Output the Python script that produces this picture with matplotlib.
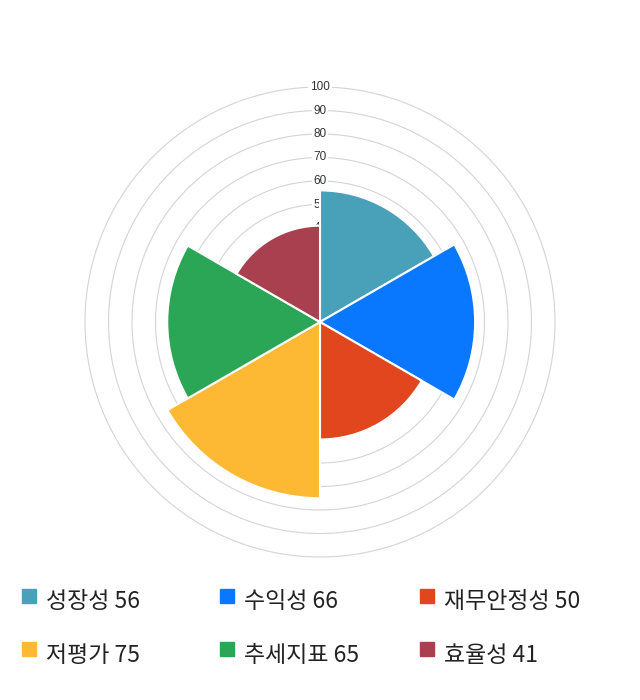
import numpy as np
import matplotlib.pyplot as plt
from matplotlib.patches import Rectangle

plt.rcParams['font.family'] = ['Noto Sans CJK KR', 'DejaVu Sans']

# data
categories = ['성장성', '수익성', '재무안정성', '저평가', '추세지표', '효율성']
values = [56, 66, 50, 75, 65, 41]
colors = ['#48A0B9', '#0A77FF', '#E2461F', '#FDB934', '#2BA556', '#A8404F']
ticks = [10, 20, 30, 40, 50, 60, 70, 80, 90, 100]

fig = plt.figure(figsize=(6.4, 7), dpi=100)
ax = fig.add_axes([85 / 640, 143 / 700, 470 / 640, 470 / 700], projection='polar')
ax.set_theta_zero_location('N')
ax.set_theta_direction(-1)
ax.set_ylim(0, 100)

n = len(values)
width = 2 * np.pi / n
theta = np.arange(n) * width
ax.bar(theta, values, width=width, align='edge', color=colors,
       edgecolor='white', linewidth=1.5, zorder=3)

# grid circles
circ = np.linspace(0, 2 * np.pi, 400)
for t in ticks:
    ax.plot(circ, np.full_like(circ, t), color='#d4d4d4', lw=0.8, zorder=1,
            clip_on=False)
    ax.text(0, t, str(t), ha='center', va='center', fontsize=8.5,
            family='Liberation Sans', color='#333333', zorder=2,
            bbox=dict(boxstyle='square,pad=0.15', fc='white', ec='none'))

ax.grid(False)
ax.set_xticks([])
ax.set_yticks([])
ax.spines['polar'].set_visible(False)

# legend
col_x = [22, 220, 420]
row_y = [596, 649]
for i, (cat, val, c) in enumerate(zip(categories, values, colors)):
    x = col_x[i % 3]
    y = row_y[i // 3]
    fig.add_artist(Rectangle((x / 640, 1 - (y + 7) / 700), 14 / 640, 14 / 700,
                             transform=fig.transFigure, color=c))
    fig.text((x + 24) / 640, 1 - (y + 6) / 700, f'{cat} {val}', fontsize=16.5,
             va='center', ha='left', color='#222222')

fig.savefig('out.png', dpi=100)
